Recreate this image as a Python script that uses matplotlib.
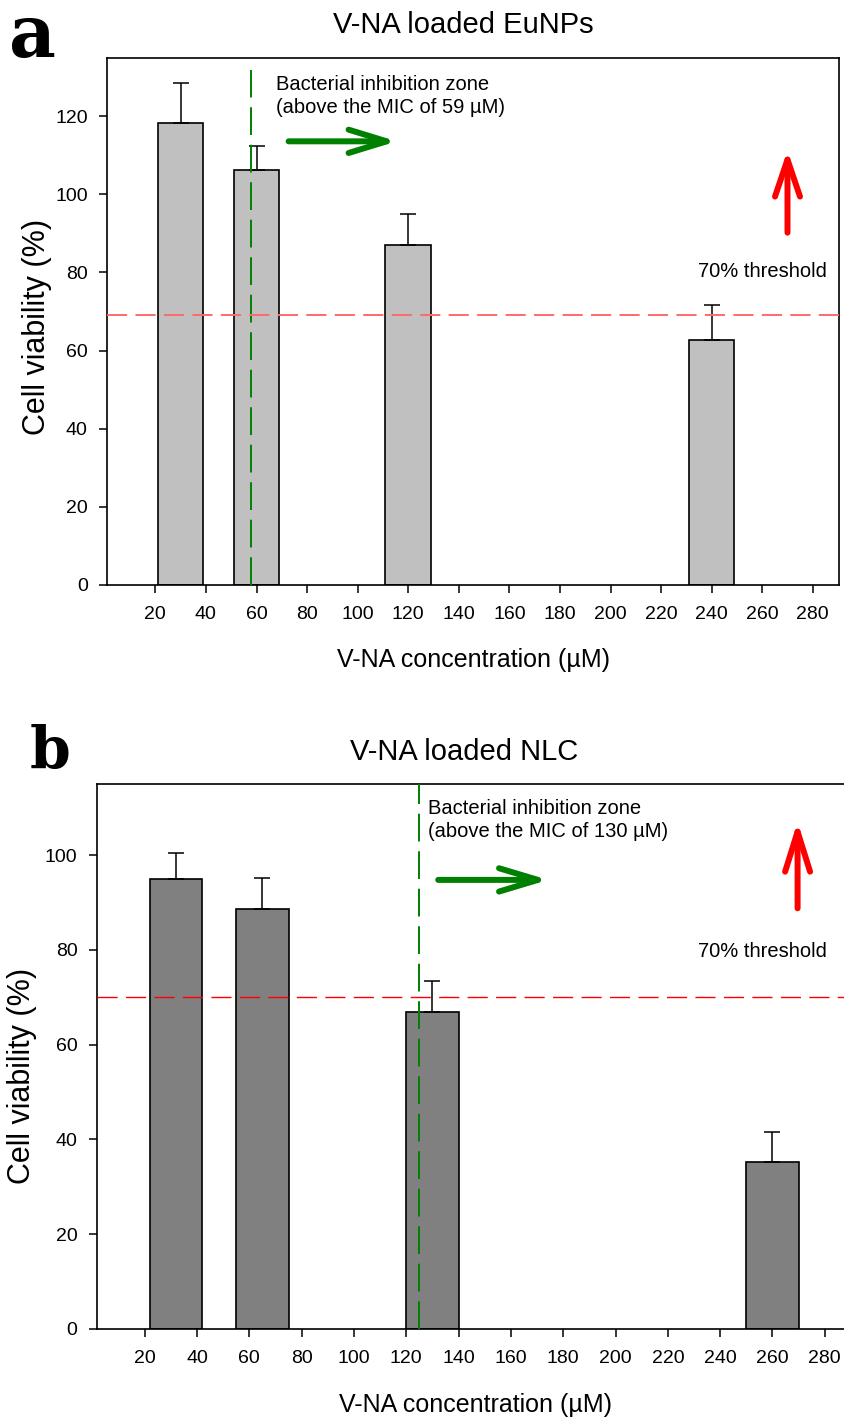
import matplotlib.pyplot as plt
import numpy as np

plt.rcParams['font.family'] = ['Liberation Sans', 'DejaVu Sans']
plt.rcParams['lines.scale_dashes'] = False

# Panel a: V-NA loaded EuNPs
conc_a = [30, 60, 120, 240]
viab_a = [118.2, 106.3, 87.0, 62.7]
err_a = [10.4, 6.2, 8.1, 9.0]
mic_a = 58
thresh_a = 69

# Panel b: V-NA loaded NLC
conc_b = [32, 65, 130, 260]
viab_b = [95.0, 88.6, 66.8, 35.2]
err_b = [5.5, 6.5, 6.6, 6.3]
mic_b = 125
thresh_b = 70

xticks = list(range(20, 281, 20))

fig = plt.figure(figsize=(8.45, 14.2), dpi=100)
ax1 = fig.add_axes([0.127, 0.5882, 0.8663, 0.3711])
ax2 = fig.add_axes([0.1148, 0.0643, 0.8876, 0.3834])


def draw_panel(ax, conc, viab, err, width, color, mic, thresh, thr_color, thr_lw,
               ylim, xlim, yticks, mic_top):
    ax.bar(conc, viab, width=width, color=color, edgecolor='black', linewidth=1.2, zorder=2)
    ax.errorbar(conc, viab, yerr=[np.zeros(len(err)), err], fmt='none', ecolor='black',
                elinewidth=1.1, capsize=5.5, capthick=1.1, zorder=3)
    ax.plot([mic, mic], [0, mic_top], color='#008000', lw=1.4, dashes=(20, 7), zorder=4)
    ax.axhline(thresh, color=thr_color, lw=thr_lw, dashes=(14.5, 6), zorder=4)
    ax.set_xlim(*xlim)
    ax.set_ylim(*ylim)
    ax.set_xticks(xticks)
    ax.set_yticks(yticks)
    ax.tick_params(direction='out', length=6, width=1.1, labelsize=14, pad=8)
    ax.tick_params(axis='x', pad=9)
    for s in ax.spines.values():
        s.set_linewidth(1.2)
    ax.set_xlabel('V-NA concentration (µM)', fontsize=18)
    ax.set_ylabel('Cell viability (%)', fontsize=22)
    ax.xaxis.label.set_va('center')
    ax.yaxis.label.set_va('center')


draw_panel(ax1, conc_a, viab_a, err_a, 18, '#c0c0c0', mic_a, thresh_a, '#ff6a6a', 1.4,
           (0, 135), (1, 290.5), range(0, 121, 20), 132)
draw_panel(ax2, conc_b, viab_b, err_b, 20, '#808080', mic_b, thresh_b, '#ff0000', 1.0,
           (0, 115), (1.76, 288.5), range(0, 101, 20), 115)
ax2.spines['right'].set_visible(False)

ax1.xaxis.set_label_coords(0.5, -0.143)
ax1.yaxis.set_label_coords(-0.096, 0.489)
ax2.xaxis.set_label_coords(0.505, -0.140)
ax2.yaxis.set_label_coords(-0.100, 0.464)

arrow_kw = dict(mutation_scale=20, lw=4.3, shrinkA=0, shrinkB=0)

# annotations panel a
ax1.text(67.6, 130.6, 'Bacterial inhibition zone\n(above the MIC of 59 µM)', fontsize=14.5,
         va='top', ha='left', linespacing=1.3)
ax1.annotate('', xy=(115.5, 113.6), xytext=(72.7, 113.6),
             arrowprops=dict(arrowstyle='->,head_length=1.37,head_width=0.42',
                             color='#008000', **arrow_kw))
ax1.annotate('', xy=(270, 111.3), xytext=(270, 90.2),
             arrowprops=dict(arrowstyle='->,head_length=1.33,head_width=0.45',
                             color='#ff0000', **arrow_kw))
ax1.text(234.5, 78.8, '70% threshold', fontsize=14.5, va='baseline', ha='left')

# annotations panel b
ax2.text(128.2, 111.9, 'Bacterial inhibition zone\n(above the MIC of 130 µM)', fontsize=14.5,
         va='top', ha='left', linespacing=1.3)
ax2.annotate('', xy=(174.3, 94.8), xytext=(132.2, 94.8),
             arrowprops=dict(arrowstyle='->,head_length=1.4,head_width=0.42',
                             color='#008000', **arrow_kw))
ax2.annotate('', xy=(269.6, 107.1), xytext=(269.6, 88.8),
             arrowprops=dict(arrowstyle='->,head_length=1.44,head_width=0.45',
                             color='#ff0000', **arrow_kw))
ax2.text(231.6, 78.6, '70% threshold', fontsize=14.5, va='baseline', ha='left')

# titles and panel letters
fig.text(463 / 845, 1 - 32.7 / 1420, 'V-NA loaded EuNPs', fontsize=21, ha='center', va='baseline')
fig.text(464 / 845, 1 - 760 / 1420, 'V-NA loaded NLC', fontsize=21, ha='center', va='baseline')
fig.text(9 / 845, 1 - 57 / 1420, 'a', fontsize=52, fontweight='bold', family='DejaVu Serif',
         ha='left', va='baseline')
fig.text(30 / 845, 1 - 768 / 1420, 'b', fontsize=42, fontweight='bold', family='DejaVu Serif',
         ha='left', va='baseline')

fig.savefig('out.png', dpi=100)
